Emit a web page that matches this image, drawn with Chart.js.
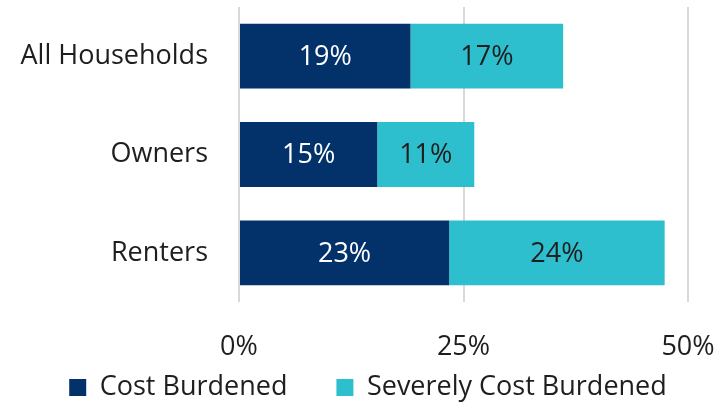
<!DOCTYPE html>
<html>
<head>
<meta charset="utf-8">
<script src="https://cdn.jsdelivr.net/npm/chart.js@4/dist/chart.umd.min.js"></script>
<style>
  html, body { margin: 0; padding: 0; background: #ffffff; }
  #wrap { width: 726px; height: 406px; position: relative; }
</style>
</head>
<body>
<div id="wrap"><canvas id="c" width="726" height="406"></canvas></div>
<script>
const categories = ["All Households", "Owners", "Renters"];
const costBurdened = [19.1, 15.4, 23.4];
const severelyCostBurdened = [17.0, 10.8, 24.0];
const seriesNames = ["Cost Burdened", "Severely Cost Burdened"];
const tickValues = [0, 25, 50];

const FONT = "'Open Sans', 'Noto Sans', sans-serif";
const FS = 27;
const TEXT = '#1e1e1e';
const DARK = '#03316a';
const CYAN = '#2ebfce';

const barLabels = {
  id: 'barLabels',
  afterDatasetsDraw(chart) {
    const ctx = chart.ctx;
    ctx.save();
    ctx.font = FS + 'px ' + FONT;
    ctx.textAlign = 'center';
    ctx.textBaseline = 'middle';
    chart.data.datasets.forEach((ds, di) => {
      const meta = chart.getDatasetMeta(di);
      meta.data.forEach((bar, i) => {
        const p = bar.getProps(['x', 'y', 'base'], true);
        const cx = (p.x + p.base) / 2;
        ctx.fillStyle = di === 0 ? '#ffffff' : TEXT;
        ctx.fillText(Math.round(ds.data[i]) + '%', cx, p.y + 1);
      });
    });
    ctx.restore();
  }
};

// move the legend row to where the reference puts it
const legendPlace = {
  id: 'legendPlace',
  afterLayout(chart) {
    const lg = chart.legend;
    if (!lg) return;
    lg.left = 10; lg.right = 726;
    lg.top = 325; lg.bottom = 406;
  }
};

new Chart(document.getElementById('c'), {
  type: 'bar',
  data: {
    labels: categories,
    datasets: [
      { label: seriesNames[0], data: costBurdened, backgroundColor: DARK, barPercentage: 0.66, categoryPercentage: 1 },
      { label: seriesNames[1], data: severelyCostBurdened, backgroundColor: CYAN, barPercentage: 0.66, categoryPercentage: 1 }
    ]
  },
  options: {
    indexAxis: 'y',
    responsive: false,
    animation: false,
    devicePixelRatio: 1,
    layout: { padding: { left: 0, right: 0, top: 7, bottom: 0 } },
    plugins: {
      tooltip: { enabled: false },
      legend: {
        position: 'bottom',
        maxHeight: 38,
        labels: {
          font: { family: FONT, size: FS },
          color: TEXT,
          boxWidth: 17,
          boxHeight: 17,
          padding: 49
        }
      }
    },
    scales: {
      x: {
        stacked: true,
        min: 0,
        max: 50,
        afterBuildTicks(scale) { scale.ticks = tickValues.map(v => ({ value: v })); },
        afterFit(scale) { scale.height = 66; scale.paddingLeft = 0; scale.paddingRight = 38; },
        grid: { color: '#d9d9d9', lineWidth: 2, drawTicks: false },
        border: { display: false },
        ticks: {
          padding: 29,
          color: TEXT,
          font: { family: FONT, size: FS },
          maxRotation: 0,
          autoSkip: false,
          callback: v => v + '%'
        }
      },
      y: {
        stacked: true,
        afterFit(scale) { scale.width = 239; scale.paddingTop = 0; scale.paddingBottom = 0; },
        grid: { display: false, drawTicks: false },
        border: { display: false },
        ticks: {
          padding: 31,
          color: TEXT,
          font: { family: FONT, size: FS }
        }
      }
    }
  },
  plugins: [barLabels, legendPlace]
});
</script>
</body>
</html>
